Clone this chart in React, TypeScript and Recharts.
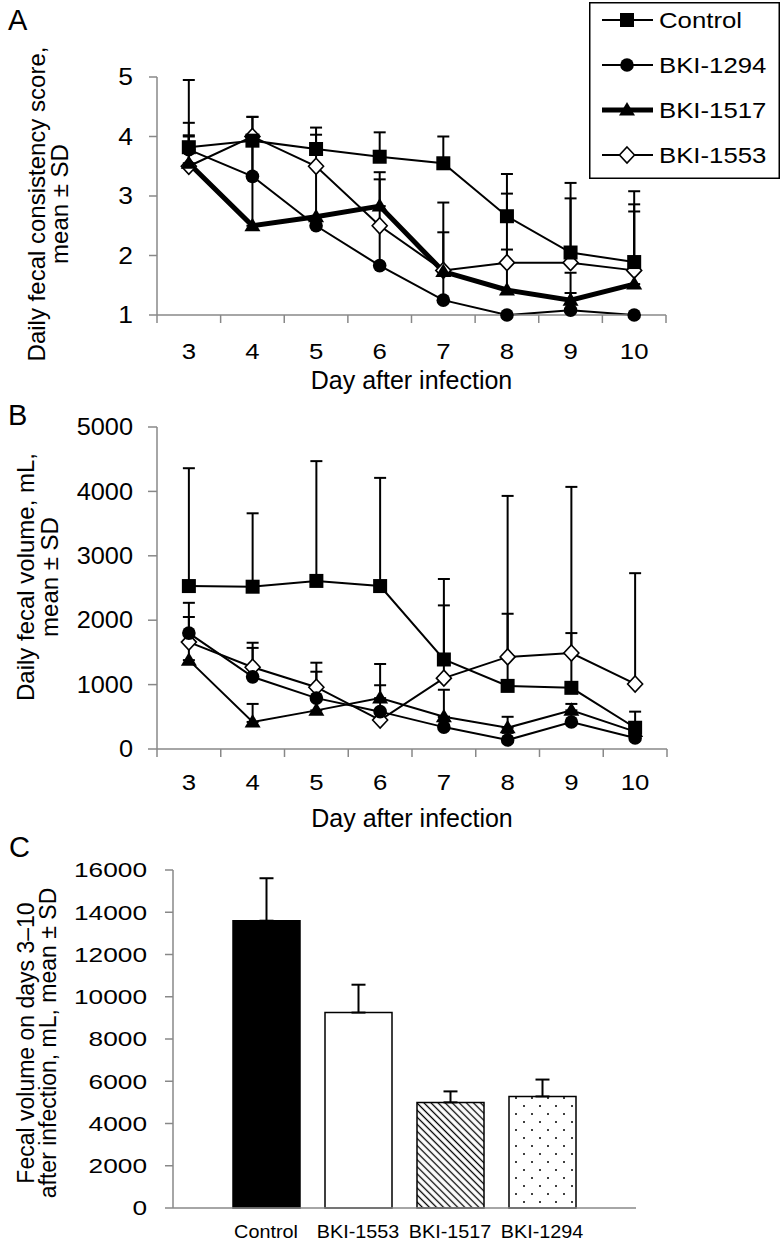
import React from 'react'
import { LineChart, Line, XAxis, YAxis, ErrorBar, Legend, BarChart, Bar, Cell } from 'recharts'

// days after infection (x categories for panels A and B)
const days = [3, 4, 5, 6, 7, 8, 9, 10]
// boundary ticks sit half a day either side of each day, Excel style
const dayTicks = [2.5, 3, 3.5, 4, 4.5, 5, 5.5, 6, 6.5, 7, 7.5, 8, 8.5, 9, 9.5, 10, 10.5]

const seriesNames = ['Control', 'BKI-1294', 'BKI-1517', 'BKI-1553']

// panel A: daily fecal consistency score, mean and upper SD
const scoreControl = [3.82, 3.93, 3.79, 3.66, 3.55, 2.66, 2.05, 1.89]
const scoreControlSd = [1.13, 0.4, 0.36, 0.41, 0.45, 0.71, 1.17, 1.19]
const score1294 = [3.78, 3.33, 2.5, 1.83, 1.25, 1.0, 1.08, 1.0]
const score1294Sd = [0.45, 0.7, 0.15, 0.67, 0.48, 0, 0.29, 0]
const score1517 = [3.55, 2.5, 2.65, 2.83, 1.73, 1.42, 1.25, 1.52]
const score1517Sd = [0.47, 1.5, 0.85, 0.57, 0.66, 0.68, 0.46, 1.22]
const score1553 = [3.5, 4.0, 3.5, 2.5, 1.75, 1.88, 1.88, 1.75]
const score1553Sd = [0.5, 0.33, 0.53, 0.78, 1.14, 1.16, 1.08, 1.11]
const scoreTicks = [1, 2, 3, 4, 5]

// panel B: daily fecal volume (mL), mean and upper SD
const volControl = [2530, 2520, 2610, 2530, 1390, 980, 950, 330]
const volControlSd = [1830, 1140, 1860, 1680, 1250, 1120, 850, 250]
const vol1294 = [1800, 1120, 790, 580, 340, 140, 420, 170]
const vol1294Sd = [470, 450, 410, 410, 160, 110, 130, 80]
const vol1517 = [1380, 420, 600, 790, 500, 330, 600, 270]
const vol1517Sd = [300, 280, 200, 530, 420, 170, 100, 130]
const vol1553 = [1660, 1270, 960, 450, 1100, 1430, 1490, 1010]
const vol1553Sd = [390, 380, 380, 150, 1130, 2500, 2580, 1720]
const volTicks = [0, 1000, 2000, 3000, 4000, 5000]

// panel C: total volume days 3-10
const groups = ['Control', 'BKI-1553', 'BKI-1517', 'BKI-1294']
const totals = [13600, 9250, 5000, 5280]
const totalsSd = [2010, 1320, 520, 800]
const totalTicks = [0, 2000, 4000, 6000, 8000, 10000, 12000, 14000, 16000]

const scoreRows = days.map((day, i) => ({
  day,
  control: scoreControl[i], controlSd: scoreControlSd[i],
  b1294: score1294[i], b1294Sd: score1294Sd[i],
  b1517: score1517[i], b1517Sd: score1517Sd[i],
  b1553: score1553[i], b1553Sd: score1553Sd[i],
}))

const volRows = days.map((day, i) => ({
  day,
  control: volControl[i], controlSd: volControlSd[i],
  b1294: vol1294[i], b1294Sd: vol1294Sd[i],
  b1517: vol1517[i], b1517Sd: vol1517Sd[i],
  b1553: vol1553[i], b1553Sd: vol1553Sd[i],
}))

const totalRows = groups.map((group, i) => ({ group, total: totals[i], sd: totalsSd[i] }))

const AXIS = '#888'
const FONT = '"Liberation Sans", Arial, Helvetica, sans-serif'
const barFills = ['#000', '#fff', 'url(#hatch)', 'url(#dots)']

type Shape = 'square' | 'circle' | 'triangle' | 'diamond'

function Marker({ cx, cy, shape }: { cx?: number; cy?: number; shape: Shape }) {
  if (cx == null || cy == null) return null
  if (shape === 'square') return <rect x={cx - 7} y={cy - 7} width={14} height={14} fill="#000" />
  if (shape === 'circle') return <circle cx={cx} cy={cy} r={6.8} fill="#000" />
  if (shape === 'triangle')
    return <polygon points={`${cx},${cy - 8} ${cx + 8},${cy + 5.5} ${cx - 8},${cy + 5.5}`} fill="#000" />
  return (
    <polygon
      points={`${cx},${cy - 8} ${cx + 7.5},${cy} ${cx},${cy + 8} ${cx - 7.5},${cy}`}
      fill="#fff"
      stroke="#000"
      strokeWidth={1.6}
    />
  )
}

const dotFor = (shape: Shape) => (p: any) => <Marker key={`${shape}-${p.index}`} cx={p.cx} cy={p.cy} shape={shape} />

// the source figure's lettering is a bit wider than Arial, so text is stretched horizontally
function WideText({ x, y, size, sx, anchor, dy, children }: any) {
  return (
    <text
      transform={`translate(${x},${y}) scale(${sx},1)`}
      dy={dy}
      textAnchor={anchor}
      fontSize={size}
      fill="#000"
      fontFamily={FONT}
    >
      {children}
    </text>
  )
}

// numeric day axis: integer ticks get a label, half-day ticks get a short tick mark
function DayTick(props: any) {
  const { x, y, payload, gap } = props
  const v = payload.value
  if (v % 1 !== 0) {
    return <line x1={x} x2={x} y1={y - gap} y2={y - gap + 8} stroke={AXIS} strokeWidth={1.5} />
  }
  return <WideText x={x} y={y} size={23} sx={1.12} anchor="middle" dy="0.71em">{v}</WideText>
}

function ValueTick(props: any) {
  const { x, y, payload, size, sx } = props
  return <WideText x={x} y={y} size={size} sx={sx} anchor="end" dy="0.355em">{payload.value}</WideText>
}

function GroupTick(props: any) {
  const { x, y, payload } = props
  return <WideText x={x} y={y} size={18} sx={1.1} anchor="middle" dy="0.71em">{payload.value}</WideText>
}

const legendShapes: Shape[] = ['square', 'circle', 'triangle', 'diamond']
const legendWidths = [2, 2, 5, 2]

function ScoreLegend() {
  return (
    <svg width={191} height={177} style={{ display: 'block' }}>
      <rect x={0.75} y={0.75} width={189.5} height={175.5} fill="#fff" stroke="#000" strokeWidth={1.5} />
      {seriesNames.map((name, i) => {
        const y = 18 + i * 45
        return (
          <g key={name}>
            <line x1={13} x2={64} y1={y} y2={y} stroke="#000" strokeWidth={legendWidths[i]} />
            <Marker cx={38} cy={y} shape={legendShapes[i]} />
            <WideText x={70} y={y} size={23} sx={1.12} anchor="start" dy="0.36em">{name}</WideText>
          </g>
        )
      })}
    </svg>
  )
}

const axisLine = { stroke: AXIS, strokeWidth: 1.5 }

function errUp(key: string) {
  return (d: any) => [0, d[key]]
}

export default function App() {
  return (
    <div style={{ position: 'absolute', left: 0, top: 0, width: 780, height: 1252, background: '#fff', fontFamily: FONT }}>
      {/* Panel A */}
      <div style={{ position: 'absolute', left: 0, top: 0 }}>
        <LineChart width={780} height={398} data={scoreRows} margin={{ top: 77, right: 114, bottom: 43, left: 97 }}>
          <XAxis
            dataKey="day"
            type="number"
            domain={[2.5, 10.5]}
            ticks={dayTicks}
            interval={0}
            height={40}
            tickSize={8}
            tickMargin={20}
            tickLine={false}
            axisLine={axisLine}
            tick={(p: any) => <DayTick key={p.index} {...p} gap={28} />}
            label={{ value: 'Day after infection', position: 'bottom', offset: 16, fontSize: 25, fill: '#000' }}
          />
          <YAxis
            domain={[1, 5]}
            ticks={scoreTicks}
            width={60}
            tickSize={8}
            tickMargin={16}
            tick={(p: any) => <ValueTick key={p.index} {...p} size={23} sx={1.15} />}
            axisLine={axisLine}
            tickLine={axisLine}
          />
          <Legend
            content={() => <ScoreLegend />}
            layout="horizontal"
            verticalAlign="middle"
            align="center"
            wrapperStyle={{ left: 589, top: 2, width: 191, height: 177 }}
          />
          <Line dataKey="b1553" name={seriesNames[3]} type="linear" stroke="#000" strokeWidth={2} dot={dotFor('diamond')} isAnimationActive={false}>
            <ErrorBar dataKey={errUp('b1553Sd')} width={6} stroke="#000" strokeWidth={2} />
          </Line>
          <Line dataKey="b1517" name={seriesNames[2]} type="linear" stroke="#000" strokeWidth={5} dot={dotFor('triangle')} isAnimationActive={false}>
            <ErrorBar dataKey={errUp('b1517Sd')} width={6} stroke="#000" strokeWidth={2} />
          </Line>
          <Line dataKey="b1294" name={seriesNames[1]} type="linear" stroke="#000" strokeWidth={2} dot={dotFor('circle')} isAnimationActive={false}>
            <ErrorBar dataKey={errUp('b1294Sd')} width={6} stroke="#000" strokeWidth={2} />
          </Line>
          <Line dataKey="control" name={seriesNames[0]} type="linear" stroke="#000" strokeWidth={2} dot={dotFor('square')} isAnimationActive={false}>
            <ErrorBar dataKey={errUp('controlSd')} width={6} stroke="#000" strokeWidth={2} />
          </Line>
        </LineChart>
      </div>

      {/* Panel B */}
      <div style={{ position: 'absolute', left: 0, top: 398 }}>
        <LineChart width={780} height={440} data={volRows} margin={{ top: 29, right: 113, bottom: 49, left: 97 }}>
          <XAxis
            dataKey="day"
            type="number"
            domain={[2.5, 10.5]}
            ticks={dayTicks}
            interval={0}
            height={40}
            tickSize={8}
            tickMargin={17}
            tickLine={false}
            axisLine={axisLine}
            tick={(p: any) => <DayTick key={p.index} {...p} gap={25} />}
            label={{ value: 'Day after infection', position: 'bottom', offset: 20, fontSize: 25, fill: '#000' }}
          />
          <YAxis
            domain={[0, 5000]}
            ticks={volTicks}
            width={60}
            tickSize={9}
            tickMargin={15}
            tick={(p: any) => <ValueTick key={p.index} {...p} size={23} sx={1.1} />}
            axisLine={axisLine}
            tickLine={axisLine}
          />
          <Line dataKey="b1553" type="linear" stroke="#000" strokeWidth={2} dot={dotFor('diamond')} isAnimationActive={false}>
            <ErrorBar dataKey={errUp('b1553Sd')} width={6} stroke="#000" strokeWidth={2} />
          </Line>
          <Line dataKey="b1517" type="linear" stroke="#000" strokeWidth={2} dot={dotFor('triangle')} isAnimationActive={false}>
            <ErrorBar dataKey={errUp('b1517Sd')} width={6} stroke="#000" strokeWidth={2} />
          </Line>
          <Line dataKey="b1294" type="linear" stroke="#000" strokeWidth={2} dot={dotFor('circle')} isAnimationActive={false}>
            <ErrorBar dataKey={errUp('b1294Sd')} width={6} stroke="#000" strokeWidth={2} />
          </Line>
          <Line dataKey="control" type="linear" stroke="#000" strokeWidth={2} dot={dotFor('square')} isAnimationActive={false}>
            <ErrorBar dataKey={errUp('controlSd')} width={6} stroke="#000" strokeWidth={2} />
          </Line>
        </LineChart>
      </div>

      {/* Panel C */}
      <div style={{ position: 'absolute', left: 0, top: 838 }}>
        <BarChart width={780} height={414} data={totalRows} margin={{ top: 32, right: 144, bottom: 4, left: 83 }} barSize={67}>
          <defs>
            <pattern id="hatch" patternUnits="userSpaceOnUse" width={5} height={5} patternTransform="rotate(45)">
              <rect width={5} height={5} fill="#fff" />
              <line x1={0} y1={2.5} x2={5} y2={2.5} stroke="#000" strokeWidth={1.3} />
            </pattern>
            <pattern id="dots" patternUnits="userSpaceOnUse" width={16} height={16}>
              <rect width={16} height={16} fill="#fff" />
              <circle cx={4} cy={4} r={1} fill="#000" />
              <circle cx={12} cy={12} r={1} fill="#000" />
            </pattern>
          </defs>
          <XAxis
            dataKey="group"
            padding={{ left: 47, right: 48 }}
            interval={0}
            height={40}
            tickLine={false}
            tickMargin={11}
            axisLine={axisLine}
            tick={(p: any) => <GroupTick key={p.index} {...p} />}
          />
          <YAxis
            domain={[0, 16000]}
            ticks={totalTicks}
            width={90}
            tickSize={8}
            tickMargin={18}
            tick={(p: any) => <ValueTick key={p.index} {...p} size={21} sx={1.25} />}
            axisLine={axisLine}
            tickLine={axisLine}
          />
          <Bar dataKey="total" stroke="#000" strokeWidth={1.5} isAnimationActive={false}>
            {totalRows.map((r, i) => (
              <Cell key={r.group} fill={barFills[i]} />
            ))}
            <ErrorBar dataKey={errUp('sd')} width={7} stroke="#000" strokeWidth={2} />
          </Bar>
        </BarChart>
      </div>

      {/* panel letters and two-line y titles */}
      <svg width={780} height={1252} style={{ position: 'absolute', left: 0, top: 0, pointerEvents: 'none' }}>
        <g fontSize={29} fill="#000">
          <text x={8} y={30}>A</text>
          <text x={8} y={425}>B</text>
          <text x={9} y={857}>C</text>
        </g>
        <g fontSize={24} fill="#000" textAnchor="middle">
          <text transform="translate(45,204) rotate(-90)">Daily fecal consistency score,</text>
          <text transform="translate(68,204) rotate(-90)">mean ± SD</text>
          <text transform="translate(34,577) rotate(-90)">Daily fecal volume, mL,</text>
          <text transform="translate(58,577) rotate(-90)">mean ± SD</text>
        </g>
        <g fontSize={23} fill="#000" textAnchor="middle">
          <text transform="translate(34,1043) rotate(-90)">Fecal volume on days 3–10</text>
          <text transform="translate(56,1043) rotate(-90)">after infection, mL, mean ± SD</text>
        </g>
      </svg>
    </div>
  )
}
